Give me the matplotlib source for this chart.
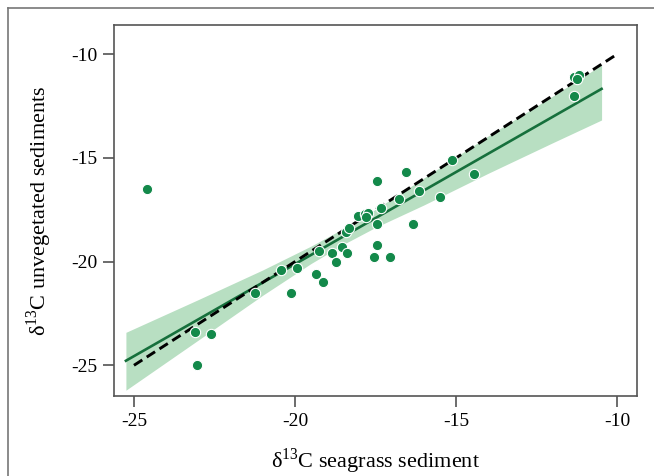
import matplotlib
matplotlib.use('Agg')
import matplotlib.pyplot as plt
from matplotlib.lines import Line2D

# d13C values
seagrass = [-24.6, -23.1, -22.6, -23.05, -21.25, -20.13, -20.43, -19.94, -19.34,
            -19.14, -19.25, -18.84, -18.74, -18.54, -18.40, -18.43, -18.32,
            -18.03, -17.83, -17.72, -17.78, -17.34, -17.45, -17.45, -17.56,
            -17.04, -17.45, -16.76, -16.54, -15.13, -14.45, -16.14, -15.51,
            -16.34, -11.34, -11.17, -11.23, -11.34]
unvegetated = [-16.5, -23.4, -23.5, -25.0, -21.5, -21.5, -20.4, -20.3, -20.6,
               -21.0, -19.5, -19.6, -20.0, -19.3, -19.6, -18.57, -18.4,
               -17.8, -17.68, -17.65, -17.84, -17.4, -18.2, -19.2, -19.8,
               -19.8, -16.1, -16.98, -15.69, -15.1, -15.77, -16.58, -16.9,
               -18.19, -11.11, -11.0, -11.2, -12.0]

# fitted line and its confidence band, read at a few x positions
fit_x = [-25.25, -10.48]
fit_y = [-24.78, -11.67]
band_x = [-25.25, -23.0, -21.0, -19.5, -18.5, -17.5, -16.0, -14.0, -12.0, -10.48]
band_hi = [-23.41, -21.83, -20.40, -19.25, -18.41, -17.48, -15.97, -13.94, -12.02, -10.52]
band_lo = [-26.20, -23.78, -21.62, -20.09, -19.17, -18.35, -17.27, -15.74, -14.27, -13.17]

one_to_one = [-25, -10]

ticks = [-25, -20, -15, -10]

plt.rcParams['font.family'] = ['Liberation Serif', 'DejaVu Serif']
plt.rcParams['axes.unicode_minus'] = False
plt.rcParams['mathtext.fontset'] = 'custom'
plt.rcParams['mathtext.rm'] = 'Liberation Serif'

fig = plt.figure(figsize=(6.54, 4.76), dpi=100)
ax = fig.add_axes([114 / 654, 1 - 396 / 476, 523 / 654, 371 / 476])

ax.fill_between(band_x, band_lo, band_hi, color='#b8dfc2', linewidth=0, zorder=1)
ax.plot(fit_x, fit_y, color='#16703c', lw=1.9, zorder=2)
ax.plot(one_to_one, one_to_one, color='black', lw=2.1, dashes=(3.4, 1.8), zorder=3)
ax.scatter(seagrass, unvegetated, s=55, color='#13894a', edgecolors='white',
           linewidths=0.8, zorder=4)

ax.set_xlim(-25.62, -9.38)
ax.set_ylim(-26.48, -8.59)
ax.set_xticks(ticks)
ax.set_yticks(ticks)
ax.set_xticklabels([str(t) for t in ticks])
ax.set_yticklabels([str(t) for t in ticks])
ax.tick_params(direction='out', length=8, width=1.1, color='#444444',
               labelsize=14, pad=4)
for s in ax.spines.values():
    s.set_color('#555555')
    s.set_linewidth(1.2)

ax.set_xlabel(r'δ$^{\mathrm{13}}$C seagrass sediment', fontsize=16, labelpad=12)
ax.set_ylabel(r'δ$^{\mathrm{13}}$C unvegetated sediments', fontsize=16, labelpad=12)

# outer frame (only the top and left edges fall inside the picture)
fig.add_artist(Line2D([8 / 654, 8 / 654], [0, 1 - 8 / 476], transform=fig.transFigure,
                      color='#777777', lw=1.2))
fig.add_artist(Line2D([8 / 654, 1], [1 - 8 / 476, 1 - 8 / 476], transform=fig.transFigure,
                      color='#777777', lw=1.2))

fig.savefig('out.png', dpi=100)
